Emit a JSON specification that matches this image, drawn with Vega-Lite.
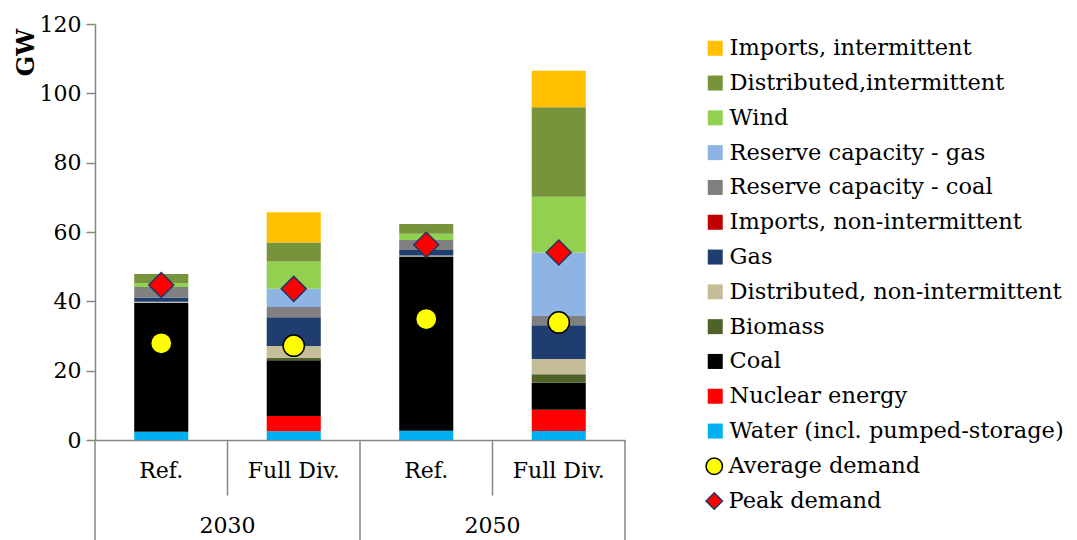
{
  "$schema": "https://vega.github.io/schema/vega-lite/v6.json",
  "autosize": "none",
  "width": 530,
  "height": 416,
  "padding": {"left": 95, "top": 24, "right": 452, "bottom": 100},
  "background": "white",
  "config": {
    "view": {"stroke": null},
    "font": "DejaVu Serif",
    "legend": {
      "labelFont": "DejaVu Serif", "labelFontSize": 22.5, "labelColor": "#000000", "padding": 0, "labelOffset": 3, "labelLimit": 500
    }
  },
  "layer": [
    {
      "data": {"values": [
        {"cat": "2030|Ref.", "source": "Water (incl. pumped-storage)", "ord": 1, "value": 2.4},
        {"cat": "2030|Ref.", "source": "Coal", "ord": 3, "value": 37.2},
        {"cat": "2030|Ref.", "source": "Distributed, non-intermittent", "ord": 5, "value": 0.3},
        {"cat": "2030|Ref.", "source": "Gas", "ord": 6, "value": 1.2},
        {"cat": "2030|Ref.", "source": "Reserve capacity - coal", "ord": 8, "value": 3.0},
        {"cat": "2030|Ref.", "source": "Wind", "ord": 10, "value": 1.1},
        {"cat": "2030|Ref.", "source": "Distributed,intermittent", "ord": 11, "value": 2.7},

        {"cat": "2030|Full Div.", "source": "Water (incl. pumped-storage)", "ord": 1, "value": 2.5},
        {"cat": "2030|Full Div.", "source": "Nuclear energy", "ord": 2, "value": 4.4},
        {"cat": "2030|Full Div.", "source": "Coal", "ord": 3, "value": 16.1},
        {"cat": "2030|Full Div.", "source": "Biomass", "ord": 4, "value": 0.7},
        {"cat": "2030|Full Div.", "source": "Distributed, non-intermittent", "ord": 5, "value": 3.4},
        {"cat": "2030|Full Div.", "source": "Gas", "ord": 6, "value": 8.3},
        {"cat": "2030|Full Div.", "source": "Reserve capacity - coal", "ord": 8, "value": 3.0},
        {"cat": "2030|Full Div.", "source": "Reserve capacity - gas", "ord": 9, "value": 5.2},
        {"cat": "2030|Full Div.", "source": "Wind", "ord": 10, "value": 7.9},
        {"cat": "2030|Full Div.", "source": "Distributed,intermittent", "ord": 11, "value": 5.5},
        {"cat": "2030|Full Div.", "source": "Imports, intermittent", "ord": 12, "value": 8.7},

        {"cat": "2050|Ref.", "source": "Water (incl. pumped-storage)", "ord": 1, "value": 2.7},
        {"cat": "2050|Ref.", "source": "Coal", "ord": 3, "value": 50.2},
        {"cat": "2050|Ref.", "source": "Distributed, non-intermittent", "ord": 5, "value": 0.3},
        {"cat": "2050|Ref.", "source": "Gas", "ord": 6, "value": 1.6},
        {"cat": "2050|Ref.", "source": "Reserve capacity - coal", "ord": 8, "value": 2.9},
        {"cat": "2050|Ref.", "source": "Wind", "ord": 10, "value": 1.8},
        {"cat": "2050|Ref.", "source": "Distributed,intermittent", "ord": 11, "value": 2.8},

        {"cat": "2050|Full Div.", "source": "Water (incl. pumped-storage)", "ord": 1, "value": 2.6},
        {"cat": "2050|Full Div.", "source": "Nuclear energy", "ord": 2, "value": 6.1},
        {"cat": "2050|Full Div.", "source": "Coal", "ord": 3, "value": 7.8},
        {"cat": "2050|Full Div.", "source": "Biomass", "ord": 4, "value": 2.5},
        {"cat": "2050|Full Div.", "source": "Distributed, non-intermittent", "ord": 5, "value": 4.4},
        {"cat": "2050|Full Div.", "source": "Gas", "ord": 6, "value": 9.7},
        {"cat": "2050|Full Div.", "source": "Reserve capacity - coal", "ord": 8, "value": 2.7},
        {"cat": "2050|Full Div.", "source": "Reserve capacity - gas", "ord": 9, "value": 18.3},
        {"cat": "2050|Full Div.", "source": "Wind", "ord": 10, "value": 16.1},
        {"cat": "2050|Full Div.", "source": "Distributed,intermittent", "ord": 11, "value": 25.8},
        {"cat": "2050|Full Div.", "source": "Imports, intermittent", "ord": 12, "value": 10.5}
      ]},
      "mark": {"type": "bar", "width": {"band": 0.408}},
      "encoding": {
        "x": {
          "field": "cat", "type": "nominal", "title": null,
          "scale": {"domain": ["2030|Ref.", "2030|Full Div.", "2050|Ref.", "2050|Full Div."], "paddingInner": 0, "paddingOuter": 0},
          "axis": {"labelExpr": "split(datum.value, '|')[1]", "domainColor": "#868686", "domainWidth": 1.5, "ticks": false,
            "labelFont": "DejaVu Serif", "labelFontSize": 22, "labelColor": "#000000", "labelPadding": 20, "labelAngle": 0}
        },
        "y": {
          "field": "value", "type": "quantitative", "stack": "zero", "title": "GW",
          "scale": {"domain": [0, 120], "nice": false, "zero": true},
          "axis": {"values": [0, 20, 40, 60, 80, 100, 120], "grid": false,
            "domainColor": "#868686", "domainWidth": 1.5, "tickColor": "#868686", "tickWidth": 1.5, "tickSize": 9,
            "labelFont": "DejaVu Serif", "labelFontSize": 22, "labelColor": "#000000", "labelPadding": 5,
            "titleFont": "DejaVu Serif", "titleFontSize": 24, "titleFontWeight": "bold", "titleColor": "#000000",
            "titleAngle": -90, "titleX": -69, "titleY": 28, "titleAlign": "center", "titleBaseline": "middle"}
        },
        "color": {
          "field": "source", "type": "nominal",
          "scale": {
            "domain": ["Imports, intermittent", "Distributed,intermittent", "Wind", "Reserve capacity - gas", "Reserve capacity - coal", "Imports, non-intermittent", "Gas", "Distributed, non-intermittent", "Biomass", "Coal", "Nuclear energy", "Water (incl. pumped-storage)"],
            "range": ["#FFC000", "#77933C", "#92D050", "#8DB4E2", "#808080", "#C00000", "#1F3D6E", "#C4BD97", "#4F6228", "#000000", "#FF0000", "#00B0F0"]
          },
          "legend": {
            "title": null, "orient": "none", "legendX": 609, "legendY": 13,
            "symbolType": "square", "symbolSize": 225, "symbolStrokeWidth": 0, "rowPadding": 11.8
          }
        },
        "order": {"field": "ord", "type": "quantitative"}
      }
    },
    {
      "data": {"values": [
        {"cat": "2030|Ref.", "measure": "Average demand", "value": 27.9},
        {"cat": "2030|Full Div.", "measure": "Average demand", "value": 27.2},
        {"cat": "2050|Ref.", "measure": "Average demand", "value": 34.9},
        {"cat": "2050|Full Div.", "measure": "Average demand", "value": 33.9}
      ]},
      "mark": {"type": "point", "filled": true, "size": 452, "strokeWidth": 1.5, "opacity": 1},
      "encoding": {
        "x": {"field": "cat", "type": "nominal", "title": null},
        "y": {"field": "value", "type": "quantitative", "title": "GW"},
        "shape": {"field": "measure", "type": "nominal", "scale": {"domain": ["Average demand", "Peak demand"], "range": ["circle", "diamond"]},
          "legend": {"title": null, "orient": "none", "legendX": 608, "legendY": 431, "symbolSize": 270, "symbolStrokeWidth": 1.5, "rowPadding": 11.8}},
        "fill": {"field": "measure", "type": "nominal", "scale": {"domain": ["Average demand", "Peak demand"], "range": ["#FFFF00", "#FF0000"]},
          "legend": {"title": null, "orient": "none", "legendX": 608, "legendY": 431, "symbolSize": 270, "symbolStrokeWidth": 1.5, "rowPadding": 11.8}},
        "stroke": {"field": "measure", "type": "nominal", "scale": {"domain": ["Average demand", "Peak demand"], "range": ["#000000", "#1F3864"]},
          "legend": {"title": null, "orient": "none", "legendX": 608, "legendY": 431, "symbolSize": 270, "symbolStrokeWidth": 1.5, "rowPadding": 11.8}}
      }
    },
    {
      "data": {"values": [
        {"cat": "2030|Ref.", "measure": "Peak demand", "value": 44.7},
        {"cat": "2030|Full Div.", "measure": "Peak demand", "value": 43.6},
        {"cat": "2050|Ref.", "measure": "Peak demand", "value": 56.3},
        {"cat": "2050|Full Div.", "measure": "Peak demand", "value": 54.1}
      ]},
      "mark": {"type": "point", "filled": true, "size": 625, "strokeWidth": 1.5, "opacity": 1},
      "encoding": {
        "x": {"field": "cat", "type": "nominal", "title": null},
        "y": {"field": "value", "type": "quantitative", "title": "GW"},
        "shape": {"field": "measure", "type": "nominal"},
        "fill": {"field": "measure", "type": "nominal"},
        "stroke": {"field": "measure", "type": "nominal"}
      }
    },
    {
      "data": {"values": [
        {"cat": "2030|Ref.", "bottom": -29},
        {"cat": "2030|Full Div.", "bottom": -16},
        {"cat": "2050|Ref.", "bottom": -29},
        {"cat": "2050|Full Div.", "bottom": -16}
      ]},
      "mark": {"type": "rule", "color": "#868686", "strokeWidth": 1.5},
      "encoding": {
        "x": {"field": "cat", "type": "nominal", "title": null, "bandPosition": 0},
        "y": {"field": "bottom", "type": "quantitative", "title": "GW"},
        "y2": {"datum": 0}
      }
    },
    {
      "data": {"values": [
        {"cat": "2050|Full Div.", "bottom": -29}
      ]},
      "mark": {"type": "rule", "color": "#868686", "strokeWidth": 1.5},
      "encoding": {
        "x": {"field": "cat", "type": "nominal", "title": null, "bandPosition": 1},
        "y": {"field": "bottom", "type": "quantitative", "title": "GW"},
        "y2": {"datum": 0}
      }
    },
    {
      "data": {"values": [
        {"cat": "2030|Ref.", "year": "2030"},
        {"cat": "2050|Ref.", "year": "2050"}
      ]},
      "mark": {"type": "text", "fontSize": 22, "font": "DejaVu Serif", "color": "#000000", "baseline": "middle"},
      "encoding": {
        "x": {"field": "cat", "type": "nominal", "title": null, "bandPosition": 1},
        "y": {"datum": -24.8, "type": "quantitative", "title": "GW"},
        "text": {"field": "year"}
      }
    }
  ]
}
